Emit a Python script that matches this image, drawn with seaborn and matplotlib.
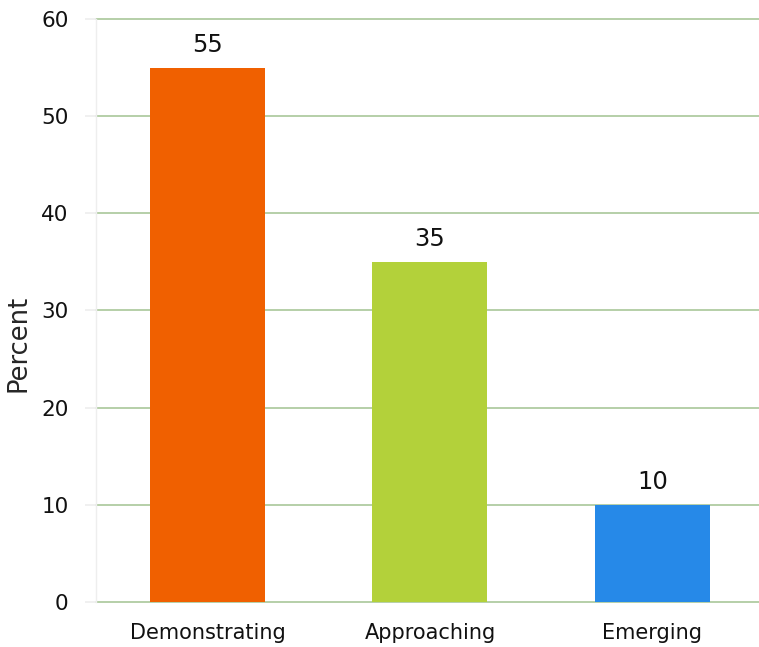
import matplotlib
matplotlib.use("Agg")
import matplotlib.pyplot as plt
import seaborn as sns
import pandas as pd

categories = ["Demonstrating", "Approaching", "Emerging"]
values = [55, 35, 10]
colors = ["#F06000", "#B3D13A", "#2689E8"]
yticks = [0, 10, 20, 30, 40, 50, 60]

sns.set_theme(style="white")
plt.rcParams['font.family'] = ['DejaVu Sans']

df = pd.DataFrame({"cat": categories, "val": values})

fig = plt.figure(figsize=(7.59, 6.47), dpi=100)
ax = fig.add_axes([0.1268, 0.0696, 0.8794, 0.901])
sns.barplot(data=df, x="cat", y="val", hue="cat", palette=colors, width=0.517,
            legend=False, ax=ax, saturation=1, linewidth=0)
ax.set_ylim(0, 60)
ax.set_yticks(yticks)
ax.set_xlim(-0.5, 2.5)
ax.yaxis.grid(True, color="#A9C79A", linewidth=1.2)
for gl in ax.get_ygridlines():
    gl.set_clip_on(False)
ax.set_axisbelow(True)
for s in ["top", "right", "bottom"]:
    ax.spines[s].set_visible(False)
ax.spines["left"].set_color("#EEEEEE")
ax.spines["left"].set_linewidth(1)
ax.tick_params(axis="y", length=8, color="#EEEEEE", labelsize=15.5, pad=12, left=True)
ax.tick_params(axis="x", length=0, labelsize=15, pad=15)
ax.set_xlabel("")
ax.set_ylabel("Percent", fontsize=18.5)
ax.yaxis.set_label_coords(-0.097, 0.444)
for i, v in enumerate(values):
    ax.text(i, v + 1.1, str(v), ha="center", va="bottom", fontsize=17.5, color="#111111")
for lbl in ax.get_xticklabels() + ax.get_yticklabels():
    lbl.set_color("#111111")
fig.savefig("out.png", dpi=100)
